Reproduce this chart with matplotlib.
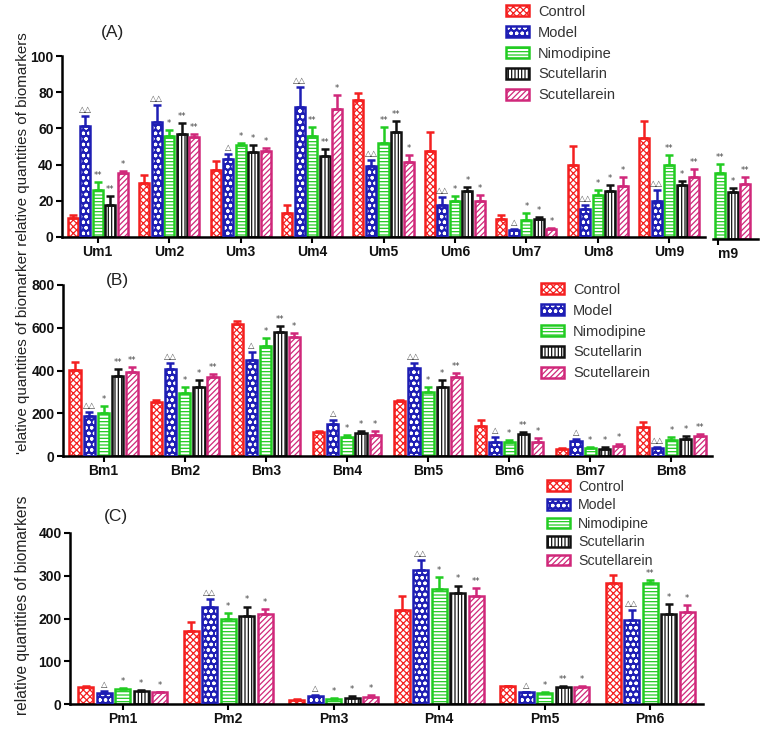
import numpy as np
import matplotlib
matplotlib.use("Agg")
import matplotlib.pyplot as plt
from matplotlib.patches import Patch

plt.rcParams['font.family'] = ['Liberation Sans', 'DejaVu Sans']
plt.rcParams['hatch.linewidth'] = 0.9

# ---------------- data ----------------
groups = ["Control", "Model", "Nimodipine", "Scutellarin", "Scutellarein"]

a_cats = ["Um1", "Um2", "Um3", "Um4", "Um5", "Um6", "Um7", "Um8", "Um9"]
a_control = [10.6, 29.8, 37.2, 13.3, 75.5, 47.3, 10.1, 39.6, 54.7]
a_control_sd = [1.4, 4.6, 4.6, 4.5, 4.0, 10.7, 2.2, 10.9, 9.6]
a_model = [61.5, 63.5, 43.1, 71.6, 39.0, 17.8, 4.0, 15.5, 19.7]
a_model_sd = [5.1, 9.5, 2.9, 11.3, 3.3, 4.1, 0.6, 2.3, 6.0]
a_nimo = [25.7, 56.0, 50.6, 55.6, 51.9, 19.7, 9.6, 23.4, 40.0]
a_nimo_sd = [4.8, 3.3, 1.4, 5.4, 8.6, 2.7, 3.7, 2.7, 5.5]
a_scutellarin = [17.8, 57.0, 47.0, 44.5, 58.0, 25.2, 10.0, 25.6, 28.9]
a_scutellarin_sd = [4.6, 6.0, 3.6, 4.1, 5.9, 2.4, 1.0, 2.9, 2.2]
a_scutellarein = [35.4, 55.0, 47.7, 70.7, 41.4, 19.7, 4.6, 28.3, 33.3]
a_scutellarein_sd = [1.2, 2.0, 1.3, 7.9, 4.1, 3.7, 0.6, 4.7, 4.3]
a_control_mk = [""] * 9
a_model_mk = ["△△", "△△", "△", "△△", "△△", "△△", "△", "△△", "△△"]
a_nimo_mk = ["**", "*", "*", "**", "**", "*", "*", "*", "**"]
a_scutellarin_mk = ["**", "**", "*", "**", "**", "*", "*", "*", "*"]
a_scutellarein_mk = ["*", "**", "*", "*", "*", "*", "*", "*", "**"]

# cropped fragment at the right of panel A
f_cats = ["m9"]
f_nimo = [36.2]
f_nimo_sd = [5.2]
f_scutellarin = [26.1]
f_scutellarin_sd = [2.2]
f_scutellarein = [30.2]
f_scutellarein_sd = [3.8]
f_nimo_mk = ["**"]
f_scutellarin_mk = ["*"]
f_scutellarein_mk = ["**"]

b_cats = ["Bm1", "Bm2", "Bm3", "Bm4", "Bm5", "Bm6", "Bm7", "Bm8"]
b_control = [402, 254, 616, 111, 257, 140, 33, 137]
b_control_sd = [39, 6, 15, 4, 5, 28, 3, 24]
b_model = [188, 407, 449, 150, 410, 64, 70, 36]
b_model_sd = [19, 26, 39, 18, 23, 23, 8, 8]
b_nimo = [200, 293, 515, 90, 298, 67, 39, 75]
b_nimo_sd = [35, 28, 38, 6, 23, 8, 5, 12]
b_scutellarin = [376, 324, 579, 106, 324, 103, 33, 80]
b_scutellarin_sd = [31, 31, 31, 12, 31, 9, 8, 12]
b_scutellarein = [391, 368, 558, 98, 368, 67, 48, 95]
b_scutellarein_sd = [24, 14, 19, 20, 19, 16, 8, 8]
b_control_mk = [""] * 8
b_model_mk = ["△△", "△△", "△", "△", "△△", "△", "△", "△△"]
b_nimo_mk = ["*", "*", "*", "*", "*", "*", "*", "*"]
b_scutellarin_mk = ["**", "*", "**", "*", "*", "**", "*", "*"]
b_scutellarein_mk = ["**", "**", "*", "*", "**", "*", "*", "**"]

c_cats = ["Pm1", "Pm2", "Pm3", "Pm4", "Pm5", "Pm6"]
c_control = [40, 171, 10, 220, 41, 283]
c_control_sd = [1, 20, 1, 33, 1, 19]
c_model = [26, 228, 19, 314, 27, 197]
c_model_sd = [4, 18, 2, 22, 2, 22]
c_nimo = [36, 199, 12, 270, 26, 283]
c_nimo_sd = [1, 14, 2, 26, 1, 8]
c_scutellarin = [29.5, 205, 15, 260, 40, 211]
c_scutellarin_sd = [3.5, 23, 3, 17, 2, 23]
c_scutellarein = [27, 210, 17, 252, 40, 215]
c_scutellarein_sd = [2, 12, 3, 19, 1, 16]
c_control_mk = [""] * 6
c_model_mk = ["△", "△△", "△", "△△", "△", "△△"]
c_nimo_mk = ["*", "*", "*", "*", "*", "**"]
c_scutellarin_mk = ["*", "*", "*", "*", "**", "*"]
c_scutellarein_mk = ["*", "*", "*", "**", "*", "*"]

# ---------------- styles ----------------
COLORS = {"Control": "#F42020", "Model": "#1E1EB4", "Nimodipine": "#22CC22",
          "Scutellarin": "#111111", "Scutellarein": "#D0287A"}
HATCH = {"Control": "xxxxx", "Model": "ooo", "Nimodipine": "-----",
         "Scutellarin": "|||||", "Scutellarein": "//////"}
PITCH = 0.175
WIDTH = 0.14
BOLD = dict(fontweight="bold", fontsize=10, color="#111111")

W, H = 770, 729
fig = plt.figure(figsize=(W / 100, H / 100), dpi=100)


def add_axes_px(left, right, y0, ytop):
    return fig.add_axes([left / W, (H - y0) / H, (right - left) / W, (y0 - ytop) / H])


def draw_bars(ax, x, vals, sds, marks, grp, ymax):
    col = COLORS[grp]
    if grp == "Model":
        ax.bar(x, vals, WIDTH, facecolor=col, edgecolor="white", linewidth=0,
               hatch=HATCH[grp], zorder=2)
        ax.bar(x, vals, WIDTH, facecolor="none", edgecolor=col, linewidth=1.8, zorder=3)
    else:
        ax.bar(x, vals, WIDTH, facecolor="white", edgecolor=col, linewidth=1.8,
               hatch=HATCH[grp], zorder=2)
    ax.errorbar(x, vals, yerr=[np.zeros(len(vals)), sds], fmt="none", ecolor=col,
                elinewidth=1.8, capsize=3.2, capthick=1.8, zorder=4)
    for xi, v, s, m in zip(x, vals, sds, marks):
        if m:
            ax.annotate(m, (xi, v + s), xytext=(0, 1.5), textcoords="offset points",
                        ha="center", va="bottom", fontsize=6, color="#444444",
                        family=["DejaVu Sans"])


def style_axes(ax, cats, xpos, ymax, yticks, show_y=True):
    ax.set_ylim(0, ymax)
    for s in ["top", "right"]:
        ax.spines[s].set_visible(False)
    ax.spines["bottom"].set_linewidth(1.8)
    ax.spines["left"].set_linewidth(1.8)
    ax.set_xticks(xpos)
    ax.set_xticklabels(cats, **BOLD)
    ax.tick_params(axis="x", length=4, width=1.5, pad=2)
    if show_y:
        ax.set_yticks(yticks)
        ax.set_yticklabels([str(t) for t in yticks], **BOLD)
        ax.tick_params(axis="y", length=4, width=1.5, pad=2)
    else:
        ax.spines["left"].set_visible(False)
        ax.set_yticks([])
    ax.set_facecolor("none")


def draw_panel(ax, cats, series, ymax, yticks):
    x = np.arange(len(cats))
    for i, (vals, sds, marks) in enumerate(series):
        draw_bars(ax, x + (i - 2) * PITCH, vals, sds, marks, groups[i], ymax)
    ax.set_xlim(-0.5, len(cats) - 0.5)
    style_axes(ax, cats, x, ymax, yticks)


# Panel A
axA = add_axes_px(62, 705, 237, 56)
draw_panel(axA, a_cats, [
    (a_control, a_control_sd, a_control_mk),
    (a_model, a_model_sd, a_model_mk),
    (a_nimo, a_nimo_sd, a_nimo_mk),
    (a_scutellarin, a_scutellarin_sd, a_scutellarin_mk),
    (a_scutellarein, a_scutellarein_sd, a_scutellarein_mk)], 100, [0, 20, 40, 60, 80, 100])

# fragment
axF = add_axes_px(713, 758, 239, 58)
xf = np.arange(len(f_cats))
draw_bars(axF, xf + 0 * PITCH, f_nimo, f_nimo_sd, f_nimo_mk, "Nimodipine", 100)
draw_bars(axF, xf + 1 * PITCH, f_scutellarin, f_scutellarin_sd, f_scutellarin_mk, "Scutellarin", 100)
draw_bars(axF, xf + 2 * PITCH, f_scutellarein, f_scutellarein_sd, f_scutellarein_mk, "Scutellarein", 100)
axF.set_xlim(-0.098, 0.532)
style_axes(axF, f_cats, xf - 0.03, 100, [], show_y=False)
for t in axF.get_xticklabels():
    t.set_horizontalalignment("left")
    t.set_x(-0.05)

# Panel B
axB = add_axes_px(63, 712, 456, 285)
draw_panel(axB, b_cats, [
    (b_control, b_control_sd, b_control_mk),
    (b_model, b_model_sd, b_model_mk),
    (b_nimo, b_nimo_sd, b_nimo_mk),
    (b_scutellarin, b_scutellarin_sd, b_scutellarin_mk),
    (b_scutellarein, b_scutellarein_sd, b_scutellarein_mk)], 800, [0, 200, 400, 600, 800])

# Panel C
axC = add_axes_px(70, 703, 704, 533)
draw_panel(axC, c_cats, [
    (c_control, c_control_sd, c_control_mk),
    (c_model, c_model_sd, c_model_mk),
    (c_nimo, c_nimo_sd, c_nimo_mk),
    (c_scutellarin, c_scutellarin_sd, c_scutellarin_mk),
    (c_scutellarein, c_scutellarein_sd, c_scutellarein_mk)], 400, [0, 100, 200, 300, 400])

# panel letters
for txt, px, py in [("(A)", 112, 32), ("(B)", 117, 280), ("(C)", 116, 517)]:
    fig.text(px / W, 1 - py / H, txt, fontsize=12.5, ha="center", va="center", color="#222222")

# y labels
fig.text(23 / W, 1 - 243 / H, "'elative quantities of biomarker relative quantities of biomarkers",
         rotation=90, ha="center", va="center", fontsize=10.9, color="#222222")
fig.text(23 / W, 1 - 605 / H, "relative quantities of biomarkers",
         rotation=90, ha="center", va="center", fontsize=11.2, color="#222222")


# legends
def legend_handles():
    hs = []
    for g in groups:
        col = COLORS[g]
        if g == "Model":
            hs.append((Patch(facecolor=col, edgecolor="white", linewidth=0, hatch=HATCH[g]),
                       Patch(facecolor="none", edgecolor=col, linewidth=1.8)))
        else:
            hs.append(Patch(facecolor="white", edgecolor=col, linewidth=1.8, hatch=HATCH[g]))
    return hs


for (lx, ly, sp, fs) in [(503, 2, 0.47, 10.5), (538, 280, 0.47, 10.5), (544, 477, 0.32, 10.2)]:
    leg = fig.legend(legend_handles(), groups, loc="upper left",
                     bbox_to_anchor=(lx / W, 1 - ly / H), frameon=False,
                     fontsize=fs, handlelength=1.6, handleheight=0.8,
                     handletextpad=0.6, labelspacing=sp, borderpad=0.2,
                     borderaxespad=0)
    for t in leg.get_texts():
        t.set_color("#333333")

fig.savefig("out.png", dpi=100)
